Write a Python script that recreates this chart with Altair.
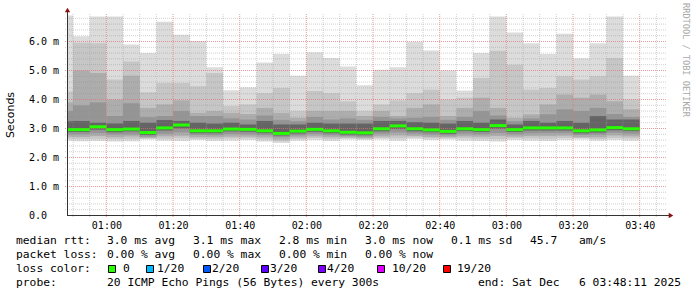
import altair as alt
import pandas as pd

# ---------------- data ----------------
first_bar_start = 45          # minutes after midnight of first 5-min bin (00:45)
bin_minutes = 5
x_start = 48 + 11 / 60        # 00:48:11
x_end = 228 + 11 / 60         # 03:48:11

top_v = [6.90, 6.18, 6.86, 6.86, 5.90, 5.60, 6.68, 6.23, 6.02, 5.11, 4.32, 4.42, 5.28, 5.57, 4.82, 5.63, 5.43, 5.14,
         4.49, 5.03, 5.11, 5.98, 5.69, 5.00, 4.31, 5.60, 6.86, 6.31, 5.94, 5.57, 6.27, 5.42, 5.94, 6.86, 4.82]
u1 = [4.28, 5.96, 5.94, 4.69, 5.31, 4.25, 4.57, 4.57, 4.46, 4.91, 3.77, 3.83, 4.22, 4.40, 3.60, 4.29, 4.22, 3.94,
      3.60, 3.83, 3.97, 4.22, 4.34, 4.00, 4.06, 4.74, 5.68, 5.20, 4.34, 4.40, 4.80, 4.69, 4.80, 5.43, 4.00]
u2 = [3.90, 5.00, 4.91, 4.00, 4.82, 3.71, 3.83, 3.97, 3.54, 3.60, 3.54, 3.50, 3.71, 3.54, 3.37, 3.60, 3.60, 3.60,
      3.43, 3.60, 3.43, 3.71, 3.83, 3.43, 3.71, 4.06, 3.71, 3.37, 3.49, 3.83, 4.17, 4.06, 4.17, 3.94, 3.66]
u3 = [3.60, 3.80, 3.90, 3.43, 3.87, 3.39, 3.43, 3.60, 3.43, 3.43, 3.35, 3.31, 3.45, 3.30, 3.25, 3.40, 3.31, 3.35,
      3.30, 3.40, 3.35, 3.37, 3.40, 3.30, 3.40, 3.60, 3.45, 3.25, 3.35, 3.49, 3.66, 3.60, 3.71, 3.50, 3.40]
u4 = [3.25, 3.26, 3.20, 3.17, 3.26, 3.20, 3.29, 3.26, 3.20, 3.17, 3.20, 3.14, 3.26, 3.14, 3.14, 3.20, 3.17, 3.17,
      3.17, 3.26, 3.26, 3.22, 3.20, 3.17, 3.26, 3.20, 3.31, 3.14, 3.26, 3.20, 3.26, 3.20, 3.43, 3.31, 3.31]
median = [2.96, 2.96, 3.06, 2.96, 2.98, 2.86, 3.02, 3.12, 2.92, 2.92, 2.98, 2.97, 2.92, 2.83, 2.91, 2.97, 2.92, 2.87,
          2.85, 2.99, 3.09, 2.99, 2.95, 2.90, 2.99, 2.96, 3.10, 2.96, 3.02, 3.02, 3.02, 2.92, 2.95, 3.03, 2.99]
l4 = [2.88, 2.88, 2.96, 2.87, 2.90, 2.78, 2.93, 3.00, 2.84, 2.84, 2.90, 2.89, 2.84, 2.76, 2.83, 2.89, 2.84, 2.79,
      2.77, 2.90, 2.98, 2.90, 2.87, 2.82, 2.91, 2.88, 2.99, 2.88, 2.93, 2.93, 2.93, 2.84, 2.86, 2.94, 2.91]
l3 = [2.80, 2.80, 2.84, 2.79, 2.80, 2.72, 2.82, 2.86, 2.78, 2.77, 2.81, 2.80, 2.77, 2.70, 2.76, 2.81, 2.77, 2.74,
      2.72, 2.82, 2.86, 2.82, 2.79, 2.76, 2.82, 2.80, 2.84, 2.80, 2.83, 2.84, 2.84, 2.78, 2.79, 2.85, 2.82]
l2 = [2.72, 2.71, 2.74, 2.70, 2.72, 2.68, 2.73, 2.75, 2.70, 2.70, 2.72, 2.72, 2.69, 2.62, 2.69, 2.73, 2.70, 2.69,
      2.67, 2.73, 2.76, 2.74, 2.71, 2.70, 2.73, 2.72, 2.74, 2.72, 2.74, 2.74, 2.75, 2.70, 2.70, 2.76, 2.73]
l1 = [2.65, 2.64, 2.65, 2.63, 2.64, 2.65, 2.65, 2.66, 2.65, 2.64, 2.66, 2.66, 2.62, 2.56, 2.64, 2.67, 2.64, 2.66,
      2.64, 2.67, 2.66, 2.69, 2.66, 2.66, 2.66, 2.65, 2.64, 2.66, 2.66, 2.65, 2.67, 2.67, 2.64, 2.67, 2.66]
bottom_v = [2.58, 2.56, 2.57, 2.55, 2.56, 2.62, 2.58, 2.57, 2.60, 2.57, 2.58, 2.60, 2.55, 2.50, 2.58, 2.60, 2.57, 2.62,
            2.60, 2.62, 2.58, 2.64, 2.60, 2.62, 2.58, 2.57, 2.55, 2.60, 2.58, 2.57, 2.60, 2.62, 2.58, 2.60, 2.58]

y_ticks = [0, 1, 2, 3, 4, 5, 6]
x_ticks = [60, 80, 100, 120, 140, 160, 180, 200, 220]   # 01:00 ... 03:40

rtt_texts = ["median rtt:", "3.0 ms avg", "3.1 ms max", "2.8 ms min", "3.0 ms now", "0.1 ms sd", "45.7", "am/s"]
loss_texts = ["packet loss:", "0.00 % avg", "0.00 % max", "0.00 % min", "0.00 % now"]
loss_color_names = ["0", "1/20", "2/20", "3/20", "4/20", "10/20", "19/20"]
loss_color_values = ["#26ff00", "#00b8ff", "#0059ff", "#5e00ff", "#7e00ff", "#dd00ff", "#ff0000"]
probe_texts = ["probe:", "20 ICMP Echo Pings (56 Bytes) every 300s", "end: Sat Dec", "6 03:48:11 2025"]

# ---------------- layout constants (pixels) ----------------
PL, PT, W, H = 67, 14, 600, 201
MONO = "DejaVu Sans Mono"
FS = 11.3

n = len(top_v)
t0 = [first_bar_start + bin_minutes * i for i in range(n)]
t1 = [t + bin_minutes for t in t0]
bars = pd.DataFrame(dict(t0=t0, t1=t1, top=top_v, u1=u1, u2=u2, u3=u3, u4=u4, med=median,
                         l4=l4, l3=l3, l2=l2, l1=l1, bot=bottom_v))

xs = alt.Scale(domain=[x_start, x_end], nice=False, zero=False)
# 29 px per ms, zero on a crisp pixel row
ys = alt.Scale(domain=[0, 6.9], nice=False, zero=True, range=[H + 0.5, H + 0.5 - 29 * 6.9])

x_axis = alt.Axis(values=x_ticks, grid=False, ticks=False, tickSize=0, domain=False,
                  labelExpr="format(floor(datum.value/60),'02d') + ':' + format(datum.value % 60,'02d')",
                  labelFont=MONO, labelFontSize=10, labelColor="#000000", labelPadding=5,
                  labelBaseline="top", labelAlign="center", labelFlush=False, labelOverlap=False,
                  title="", zindex=1)
y_axis = alt.Axis(grid=False, ticks=False, tickSize=0, domain=False, labels=False,
                  title="Seconds", titleFont="DejaVu Sans", titleFontSize=11, titleFontWeight="normal",
                  titleColor="#000000", titleAngle=-90, titleX=-57, titleY=H / 2,
                  titleAlign="center", titleBaseline="middle", zindex=1)

base = alt.Chart(bars)
bands = [("bot", "top", "#dcdcdc"), ("l1", "u1", "#c6c6c6"), ("l2", "u2", "#adadad"),
         ("l3", "u3", "#959595"), ("l4", "u4", "#646464")]
layers = []
for i, (lo, hi, col) in enumerate(bands):
    if i == 0:
        xe = alt.X("t0:Q", scale=xs, axis=x_axis)
        ye = alt.Y(f"{lo}:Q", scale=ys, axis=y_axis)
    else:
        xe = alt.X("t0:Q", scale=xs)
        ye = alt.Y(f"{lo}:Q", scale=ys)
    layers.append(base.mark_rect(color=col, clip=True).encode(x=xe, x2="t1:Q", y=ye, y2=f"{hi}:Q"))

# grid lines
y_minor = [round(0.2 * k, 1) for k in range(1, 35) if k % 5 != 0]
y_major = [1.0, 2.0, 3.0, 4.0, 5.0, 6.0]
x_minor = [m for m in range(50, 230, 5) if m % 20 != 0]
x_major = x_ticks
layers.append(alt.Chart(pd.DataFrame({"gy": y_minor})).mark_rule(
    color="#8c8c8c", opacity=0.4, strokeDash=[1, 1]).encode(
    y=alt.Y("gy:Q", scale=ys), x=alt.value(-2), x2=alt.value(W)))
layers.append(alt.Chart(pd.DataFrame({"gx": x_minor})).mark_rule(
    color="#8c8c8c", opacity=0.4, strokeDash=[1, 1]).encode(
    x=alt.X("gx:Q", scale=xs), y=alt.value(0), y2=alt.value(H + 3)))
layers.append(alt.Chart(pd.DataFrame({"my": y_major})).mark_rule(
    color="#e07070", opacity=0.7, strokeDash=[1, 1]).encode(
    y=alt.Y("my:Q", scale=ys), x=alt.value(-2), x2=alt.value(W)))
layers.append(alt.Chart(pd.DataFrame({"mx": x_major})).mark_rule(
    color="#e07070", opacity=0.7, strokeDash=[1, 1]).encode(
    x=alt.X("mx:Q", scale=xs), y=alt.value(0), y2=alt.value(H + 3)))

# median line (loss colour 0)
layers.append(base.mark_rule(color="#26ff00", strokeWidth=3, clip=True).encode(
    x=alt.X("t0:Q", scale=xs), x2="t1:Q", y=alt.Y("med:Q", scale=ys)))

# y tick labels drawn on the y scale
layers.append(alt.Chart(pd.DataFrame({"yt": y_ticks})).transform_calculate(
    lab="datum.yt == 0 ? '0.0' : format(datum.yt, '.1f') + ' m'").mark_text(
    font=MONO, fontSize=10, color="#000000", align="left", baseline="middle").encode(
    y=alt.Y("yt:Q", scale=ys), x=alt.value(29 - PL), text="lab:N"))

# axis lines, arrows
one = pd.DataFrame({"k": [0]})
layers.append(alt.Chart(one).mark_rule(color="#333333").encode(
    x=alt.value(0.5), y=alt.value(-3), y2=alt.value(H + 1)))
layers.append(alt.Chart(one).mark_rule(color="#333333").encode(
    x=alt.value(0), x2=alt.value(602), y=alt.value(H + 0.5)))
layers.append(alt.Chart(one).mark_point(shape="triangle-up", filled=True, size=28, color="#8b1010", opacity=1).encode(
    x=alt.value(0.5), y=alt.value(-4)))
layers.append(alt.Chart(one).mark_point(shape="triangle-right", filled=True, size=28, color="#8b1010", opacity=1).encode(
    x=alt.value(604), y=alt.value(H + 0.5)))


def text_layer(s, ax, ay, size=FS, color="#000000", font=MONO, angle=0, align="left"):
    return alt.Chart(pd.DataFrame({"t": [s]})).mark_text(
        font=font, fontSize=size, color=color, align=align, baseline="middle", angle=angle).encode(
        x=alt.value(ax - PL), y=alt.value(ay - PT), text="t:N")


# watermark
layers.append(text_layer("RRDTOOL / TOBI OETIKER", 686, 60, size=8.6, color="#a8a8a8", angle=90, align="center"))

# legend lines
rtt_x = [16, 107, 193, 279, 365, 451, 530, 579]
for s, xx in zip(rtt_texts, rtt_x):
    layers.append(text_layer(s, xx, 241))
loss_x = [16, 107, 193, 279, 365]
for s, xx in zip(loss_texts, loss_x):
    layers.append(text_layer(s, xx, 255))
layers.append(text_layer("loss color:", 16, 269))
sq_x = [108, 146, 203, 261, 318, 377, 443]
lab_x = [123, 157, 212, 270, 327, 392, 457]
for name, col, sx, lx in zip(loss_color_names, loss_color_values, sq_x, lab_x):
    layers.append(alt.Chart(one).mark_rect(color=col, stroke="#000000", strokeWidth=1).encode(
        x=alt.value(sx - PL + 0.5), x2=alt.value(sx - PL + 7.5), y=alt.value(265.5 - PT), y2=alt.value(272.5 - PT)))
    layers.append(text_layer(name, lx, 269))
probe_x = [16, 107, 478, 579]
for s, xx in zip(probe_texts, probe_x):
    layers.append(text_layer(s, xx, 283))

chart = alt.layer(*layers).properties(
    width=W, height=H,
    autosize=alt.AutoSizeParams(type="none"),
    padding={"left": PL, "top": PT, "right": 697 - PL - W, "bottom": 297 - PT - H},
    background="#ffffff",
).configure_view(stroke=None)

chart.save("out.html", embed_options={"renderer": "svg", "actions": False})
